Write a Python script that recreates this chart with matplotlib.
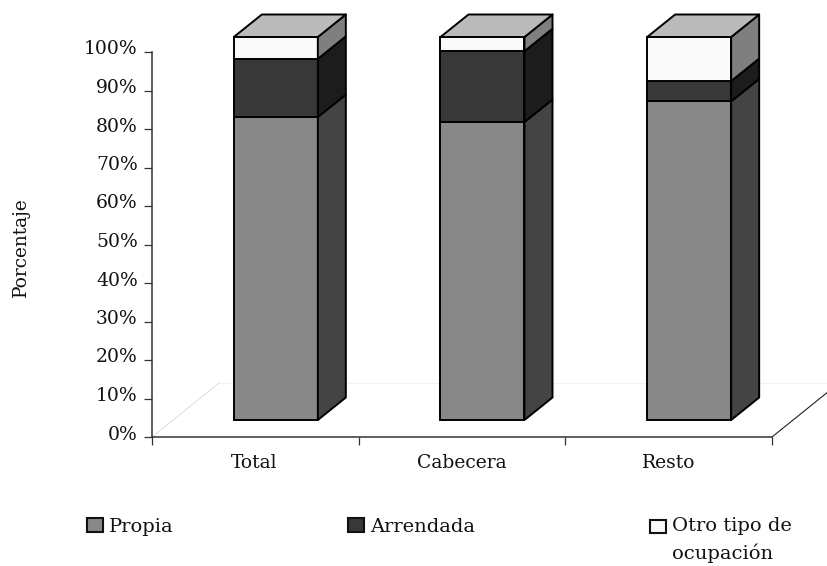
import numpy as np
import matplotlib
matplotlib.use("Agg")
import matplotlib.pyplot as plt
from matplotlib.patches import Polygon, Patch, Rectangle
from matplotlib.legend_handler import HandlerPatch
from matplotlib.transforms import ScaledTranslation

categories = ["Total", "Cabecera", "Resto"]
propia = [79.1, 77.8, 83.2]
arrendada = [15.2, 18.5, 5.3]
otro = [5.7, 3.7, 11.5]
series_labels = ["Propia", "Arrendada", "Otro tipo de\nocupación"]
y_ticks = list(range(0, 101, 10))

W, H = 828, 566
AX_L, AX_R, AX_T, AX_B = 152, 772, 52, 437
plt.rcParams["font.family"] = "DejaVu Serif"

fig = plt.figure(figsize=(W / 100, H / 100), dpi=100, facecolor="white")
ax = fig.add_axes([AX_L / W, 1 - AX_B / H, (AX_R - AX_L) / W, (AX_B - AX_T) / H])
ax.set_xlim(0, 3)
ax.set_ylim(0, 100)
ax.patch.set_visible(False)

px_x = 3 / (AX_R - AX_L)
px_y = 100 / (AX_B - AX_T)

floor_dx, floor_dy = 67 * px_x, 54 * px_y
ax.plot([0, floor_dx], [0, floor_dy], color="#d8d8d8", lw=0.6, clip_on=False, zorder=1)
ax.plot([floor_dx, 3 + floor_dx], [floor_dy, floor_dy], color="#f2f2f2", lw=0.8, clip_on=False, zorder=1)
ax.plot([3, 3 + floor_dx], [0, floor_dy], color="#222222", lw=0.8, clip_on=False, zorder=1)

x = np.arange(3) + 0.5 + 20.5 * px_x
width = 84 * px_x
base = 17 * px_y
scale = 383 / 385
dx, dy = 28 * px_x, 22.5 * px_y
front = ["#888888", "#383838", "#fafafa"]
side = ["#444444", "#1c1c1c", "#7f7f7f"]
top_col = "#bbbbbb"
edge = "#000000"
lw = 1.4

bottom = np.zeros(3)
for vals, fc, sc in zip([propia, arrendada, otro], front, side):
    vals = np.array(vals)
    y0 = base + bottom * scale
    y1 = base + (bottom + vals) * scale
    ax.bar(x, y1 - y0, width, bottom=y0, color=fc, edgecolor=edge, linewidth=lw, clip_on=False, zorder=3)
    for xi, a, b in zip(x, y0, y1):
        r = xi + width / 2
        ax.add_patch(Polygon([(r, a), (r + dx, a + dy), (r + dx, b + dy), (r, b)],
                             closed=True, facecolor=sc, edgecolor=edge, linewidth=lw,
                             clip_on=False, zorder=3, joinstyle="round"))
    bottom = bottom + vals
for xi, t in zip(x, base + bottom * scale):
    l, r = xi - width / 2, xi + width / 2
    ax.add_patch(Polygon([(l, t), (r, t), (r + dx, t + dy), (l + dx, t + dy)],
                         closed=True, facecolor=top_col, edgecolor=edge, linewidth=lw,
                         clip_on=False, zorder=3, joinstyle="round"))

for s in ("top", "right"):
    ax.spines[s].set_visible(False)
for s in ("left", "bottom"):
    ax.spines[s].set_color("#333333")
    ax.spines[s].set_linewidth(1.1)
ax.set_yticks(y_ticks)
ax.set_yticklabels([f"{v}%" for v in y_ticks])
ax.tick_params(axis="y", length=5.8, width=0.9, color="#333333", labelsize=13.5, pad=4.5, labelcolor="#111111")
up = ScaledTranslation(0, 4.5 / 100, fig.dpi_scale_trans)
for t in ax.get_yticklabels():
    t.set_transform(t.get_transform() + up)
ax.set_xticks([0, 1, 2, 3])
ax.set_xticklabels([])
ax.tick_params(axis="x", which="major", length=5.5, width=0.9, color="#333333")
ax.set_xticks([0.494, 1.497, 2.5], minor=True)
ax.set_xticklabels(categories, minor=True)
ax.tick_params(axis="x", which="minor", length=0, labelsize=13.5, pad=12.5, labelcolor="#111111")

fig.text(21 / W, 1 - 247 / H, "Porcentaje", rotation=90, ha="center", va="center",
         fontsize=13.3, color="#111111")


def square(shift):
    def make(legend, orig_handle, xdescent, ydescent, width, height, fontsize):
        return Rectangle((-xdescent, -ydescent + shift), width, height)
    return HandlerPatch(patch_func=make)


legend_x = [87, 348, 650]
legend_top = [518, 518, 517]
legend_shift = [0, 0, 10]
for i, (c, lab) in enumerate(zip(front, series_labels)):
    h = Patch(facecolor=c, edgecolor="#111111", linewidth=1.5)
    leg = fig.legend([h], [lab], loc="upper left",
                     bbox_to_anchor=(legend_x[i] / W, 1 - legend_top[i] / H), frameon=False, fontsize=14,
                     handlelength=0.8, handleheight=0.7, handletextpad=0.32,
                     labelcolor="#111111", borderpad=0, borderaxespad=0,
                     handler_map={h: square(legend_shift[i])})
    leg.get_texts()[0].set_linespacing(1.55)

fig.savefig("out.png", dpi=100, facecolor="white")
